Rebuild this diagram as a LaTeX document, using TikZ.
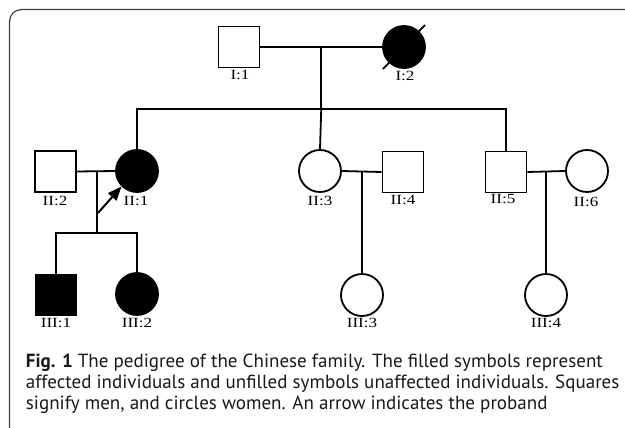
\documentclass[tikz,border=0pt]{standalone}
\usepackage{fontspec}
\setmainfont{Liberation Serif}
\newfontfamily\capfont{PT Sans}
\newfontfamily\lblfont[FakeStretch=1.22]{Liberation Serif}
\usetikzlibrary{arrows.meta,calc}
\newlength\mycapw
\begin{document}
\settowidth\mycapw{\capfont\fontsize{10}{12}\selectfont\textbf{Fig. 1} The pedigree of the Chinese family. The filled symbols represent}
\pgfmathsetmacro\mycapsize{10*577/\mycapw}
\begin{tikzpicture}[x=1pt,y=-1pt,line width=1.8pt,
  male/.style={draw,rectangle,minimum width=41pt,minimum height=41pt,inner sep=0pt},
  female/.style={draw,circle,minimum size=42pt,inner sep=0pt},
  aff/.style={fill=black},
  lbl/.style={inner sep=0pt,font=\lblfont\fontsize{14}{14}\selectfont},
  capline/.style={anchor=base west,inner sep=0pt,font=\capfont\fontsize{\mycapsize}{21}\selectfont,text=black!90}]
\useasboundingbox (0,0) rectangle (625,428);
\clip (0,0) rectangle (625,428);
\fill[white] (0,0) rectangle (625,428);
\draw[line width=1.2pt,rounded corners=12pt,black!75] (9.5,9.5) rectangle (660,440);
% generation I
\node[male] (i1) at (239,47) {};
\node[female,aff] (i2) at (404,47) {};
\draw ($(i2.center)+(21,-22)$) -- ($(i2.center)+(-21,22)$);
\node[lbl] (li1) at (240,75) {I:1};
\node[lbl] (li2) at (405,76) {I:2};
\draw (i1.east) -- (i2.west);
\coordinate (m1) at ($(i1.east)!0.5!(i2.west)$);
\coordinate (s1) at (m1 |- 0,109);
\draw (m1) -- (s1);
% generation II
\node[male] (ii2) at (55.5,171.5) {};
\node[female,aff] (ii1) at (137,171) {};
\node[female] (ii3) at (320,171) {};
\node[male] (ii4) at (403,172) {};
\node[male] (ii5) at (506,172) {};
\node[female] (ii6) at (587,171) {};
\node[lbl] (lii2) at (55,200.5) {II:2};
\node[lbl] (lii1) at (136,200.5) {II:1};
\node[lbl] (lii3) at (320,200.5) {II:3};
\node[lbl] (lii4) at (403,200) {II:4};
\node[lbl] (lii5) at (503,199) {II:5};
\node[lbl] (lii6) at (586,202) {II:6};
\draw (ii1.north) |- (s1) -| (ii5.north);
\draw (s1) -- (ii3.north);
% couples of generation II
\draw (ii2.east) -- (ii1.west);
\draw (ii3.east) -- (ii4.west);
\draw (ii5.east) -- (ii6.west);
\coordinate (m2) at (97,172);
\coordinate (s2) at (97,233);
\coordinate (m3) at (362,172);
\coordinate (m4) at (546,172);
% generation III
\node[male,aff] (iii1) at (56,295) {};
\node[female,aff] (iii2) at (137,294) {};
\node[female] (iii3) at (362,295) {};
\node[female] (iii4) at (546,295) {};
\node[lbl] (liii1) at (56,323) {III:1};
\node[lbl] (liii2) at (137,323) {III:2};
\node[lbl] (liii3) at (362,323) {III:3};
\node[lbl] (liii4) at (546,323) {III:4};
\draw (m2) -- (s2);
\draw (iii1.north) |- (s2) -| (iii2.north);
\draw (m3) -- (iii3.north);
\draw (m4) -- (iii4.north);
% proband arrow
\coordinate (at) at (98,213);
\draw[line width=2pt,-{Triangle[length=14pt,width=11pt]}] (at) -- (ii1.south west);
% caption
\node[capline] (cap1) at (25,367) {\textbf{Fig. 1} The pedigree of the Chinese family. The filled symbols represent};
\node[capline] (cap2) at (25,388) {affected individuals and unfilled symbols unaffected individuals. Squares};
\node[capline] (cap3) at (25,409) {signify men, and circles women. An arrow indicates the proband};
\end{tikzpicture}
\end{document}
